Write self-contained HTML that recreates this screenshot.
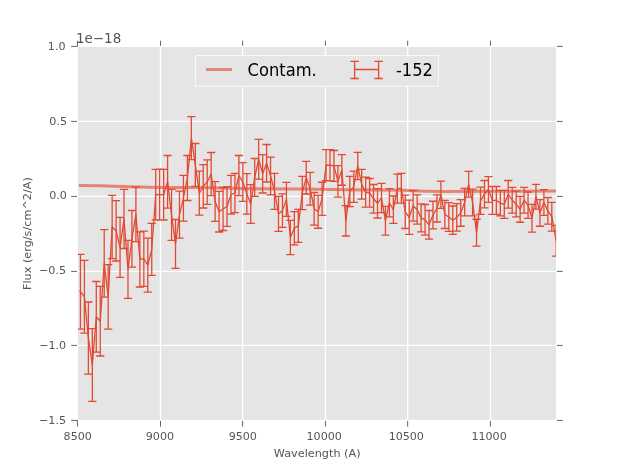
<!DOCTYPE html>
<html><head><meta charset="utf-8"><title>Flux vs Wavelength</title>
<style>html,body{margin:0;padding:0;background:#fff;}svg{display:block;will-change:transform;}text{font-family:"DejaVu Sans","Liberation Sans",sans-serif;}</style></head><body>
<svg width="617" height="467" viewBox="0 0 617 467">
<rect x="0" y="0" width="617" height="467" fill="#ffffff"/>
<rect x="78.05" y="47.05" width="477.85" height="372.75" fill="#E5E5E5"/>
<path d="M160.50 47.05V419.8M242.60 47.05V419.8M325.45 47.05V419.8M407.65 47.05V419.8M490.45 47.05V419.8M78.05 121.42H555.9M78.05 196.42H555.9M78.05 271.42H555.9M78.05 345.42H555.9" stroke="#ffffff" stroke-width="1.3" fill="none"/>
<path d="M77.45 420.1V426.65M77.45 46.4V40.7M160.50 420.9V426.65M160.50 45.8V40.7M242.60 420.9V426.65M242.60 45.8V40.7M325.45 420.9V426.65M325.45 45.8V40.7M407.65 420.9V426.65M407.65 45.8V40.7M490.45 420.9V426.65M490.45 45.8V40.7M71.15 46.42H77.45M556.9 46.42H562.75M71.15 121.42H77.0M556.9 121.42H562.75M71.15 196.42H77.0M556.9 196.42H562.75M71.15 271.42H77.0M556.9 271.42H562.75M71.15 345.42H77.0M556.9 345.42H562.75M71.15 420.40H77.45M556.9 420.40H562.75" stroke="#555555" stroke-width="0.9" fill="none"/>
<defs><clipPath id="ax"><rect x="77.85" y="46.85" width="478.25" height="373.15"/></clipPath></defs>
<g clip-path="url(#ax)">
<polyline points="78.9,185.40 100.0,185.70 114.0,186.30 130.0,186.80 160.0,187.40 200.0,187.60 250.0,188.80 300.0,189.10 350.0,189.80 403.0,190.30 420.0,191.10 440.0,191.40 490.0,191.20 556.5,191.10" fill="none" stroke="#E24A33" stroke-opacity="0.62" stroke-width="3.0" stroke-linejoin="round"/>
<path d="M80.45 254.30V329.20M76.35 254.30h8.2M76.35 329.20h8.2M84.41 260.40V333.20M80.31 260.40h8.2M80.31 333.20h8.2M88.37 302.00V374.20M84.27 302.00h8.2M84.27 374.20h8.2M92.33 328.60V401.40M88.23 328.60h8.2M88.23 401.40h8.2M96.29 281.50V352.10M92.19 281.50h8.2M92.19 352.10h8.2M100.25 286.40V356.00M96.16 286.40h8.2M96.16 356.00h8.2M104.22 229.60V297.10M100.12 229.60h8.2M100.12 297.10h8.2M108.18 264.60V329.20M104.08 264.60h8.2M104.08 329.20h8.2M112.14 195.40V258.60M108.04 195.40h8.2M108.04 258.60h8.2M116.10 200.60V261.00M112.00 200.60h8.2M112.00 261.00h8.2M120.06 217.30V277.40M115.96 217.30h8.2M115.96 277.40h8.2M124.02 189.40V248.50M119.92 189.40h8.2M119.92 248.50h8.2M127.98 240.30V298.40M123.88 240.30h8.2M123.88 298.40h8.2M131.94 210.50V267.20M127.84 210.50h8.2M127.84 267.20h8.2M135.90 187.20V241.70M131.80 187.20h8.2M131.80 241.70h8.2M139.87 231.90V287.00M135.77 231.90h8.2M135.77 287.00h8.2M143.83 231.05V286.40M139.73 231.05h8.2M139.73 286.40h8.2M147.79 238.20V292.20M143.69 238.20h8.2M143.69 292.20h8.2M151.75 223.30V275.30M147.65 223.30h8.2M147.65 275.30h8.2M155.71 169.40V219.90M151.61 169.40h8.2M151.61 219.90h8.2M159.67 169.10V220.20M155.57 169.10h8.2M155.57 220.20h8.2M163.63 169.40V220.00M159.53 169.40h8.2M159.53 220.00h8.2M167.59 155.50V208.10M163.49 155.50h8.2M163.49 208.10h8.2M171.55 189.40V240.30M167.45 189.40h8.2M167.45 240.30h8.2M175.51 219.50V268.30M171.41 219.50h8.2M171.41 268.30h8.2M179.47 191.20V238.20M175.38 191.20h8.2M175.38 238.20h8.2M183.44 175.40V221.05M179.34 175.40h8.2M179.34 221.05h8.2M187.40 155.50V200.50M183.30 155.50h8.2M183.30 200.50h8.2M191.36 116.60V159.60M187.26 116.60h8.2M187.26 159.60h8.2M195.32 143.50V186.30M191.22 143.50h8.2M191.22 186.30h8.2M199.28 171.20V215.20M195.18 171.20h8.2M195.18 215.20h8.2M203.24 164.60V208.00M199.14 164.60h8.2M199.14 208.00h8.2M207.20 159.80V204.30M203.10 159.80h8.2M203.10 204.30h8.2M211.16 152.50V195.70M207.06 152.50h8.2M207.06 195.70h8.2M215.12 181.60V221.40M211.02 181.60h8.2M211.02 221.40h8.2M219.08 191.40V232.00M214.98 191.40h8.2M214.98 232.00h8.2M223.05 187.50V230.50M218.95 187.50h8.2M218.95 230.50h8.2M227.01 186.60V226.40M222.91 186.60h8.2M222.91 226.40h8.2M230.97 175.30V214.20M226.87 175.30h8.2M226.87 214.20h8.2M234.93 173.40V212.60M230.83 173.40h8.2M230.83 212.60h8.2M238.89 155.50V195.70M234.79 155.50h8.2M234.79 195.70h8.2M242.85 162.70V201.35M238.75 162.70h8.2M238.75 201.35h8.2M246.81 173.60V214.20M242.71 173.60h8.2M242.71 214.20h8.2M250.77 184.70V223.45M246.67 184.70h8.2M246.67 223.45h8.2M254.73 158.50V196.40M250.63 158.50h8.2M250.63 196.40h8.2M258.69 139.40V179.10M254.59 139.40h8.2M254.59 179.10h8.2M262.66 154.70V193.00M258.56 154.70h8.2M258.56 193.00h8.2M266.62 144.50V182.00M262.52 144.50h8.2M262.52 182.00h8.2M270.58 157.20V194.85M266.48 157.20h8.2M266.48 194.85h8.2M274.54 173.40V209.40M270.44 173.40h8.2M270.44 209.40h8.2M278.50 196.40V231.40M274.40 196.40h8.2M274.40 231.40h8.2M282.46 193.85V227.40M278.36 193.85h8.2M278.36 227.40h8.2M286.42 182.40V216.30M282.32 182.40h8.2M282.32 216.30h8.2M290.38 220.40V254.60M286.28 220.40h8.2M286.28 254.60h8.2M294.34 211.60V244.90M290.24 211.60h8.2M290.24 244.90h8.2M298.31 209.40V242.30M294.20 209.40h8.2M294.20 242.30h8.2M302.27 176.40V209.60M298.17 176.40h8.2M298.17 209.60h8.2M306.23 161.30V194.00M302.13 161.30h8.2M302.13 194.00h8.2M310.19 172.40V205.10M306.09 172.40h8.2M306.09 205.10h8.2M314.15 192.50V225.20M310.05 192.50h8.2M310.05 225.20h8.2M318.11 195.30V228.25M314.01 195.30h8.2M314.01 228.25h8.2M322.07 182.25V215.40M317.97 182.25h8.2M317.97 215.40h8.2M326.03 149.60V180.70M321.93 149.60h8.2M321.93 180.70h8.2M329.99 149.60V180.90M325.89 149.60h8.2M325.89 180.90h8.2M333.95 150.50V181.30M329.85 150.50h8.2M329.85 181.30h8.2M337.91 165.70V197.10M333.81 165.70h8.2M333.81 197.10h8.2M341.88 154.60V185.25M337.78 154.60h8.2M337.78 185.25h8.2M345.84 205.60V236.00M341.74 205.60h8.2M341.74 236.00h8.2M349.80 176.35V206.55M345.70 176.35h8.2M345.70 206.55h8.2M353.76 171.05V202.30M349.66 171.05h8.2M349.66 202.30h8.2M357.72 152.30V179.70M353.62 152.30h8.2M353.62 179.70h8.2M361.68 169.40V199.20M357.58 169.40h8.2M357.58 199.20h8.2M365.64 177.10V207.10M361.54 177.10h8.2M361.54 207.10h8.2M369.60 178.50V207.10M365.50 178.50h8.2M365.50 207.10h8.2M373.56 184.50V213.10M369.46 184.50h8.2M369.46 213.10h8.2M377.52 188.60V218.00M373.42 188.60h8.2M373.42 218.00h8.2M381.49 183.40V212.60M377.39 183.40h8.2M377.39 212.60h8.2M385.45 206.30V235.20M381.35 206.30h8.2M381.35 235.20h8.2M389.41 188.60V216.80M385.31 188.60h8.2M385.31 216.80h8.2M393.37 196.00V223.40M389.27 196.00h8.2M389.27 223.40h8.2M397.33 174.20V203.10M393.23 174.20h8.2M393.23 203.10h8.2M401.29 173.30V203.10M397.19 173.30h8.2M397.19 203.10h8.2M405.25 195.10V228.50M401.15 195.10h8.2M401.15 228.50h8.2M409.21 200.20V234.30M405.11 200.20h8.2M405.11 234.30h8.2M413.17 190.70V221.10M409.07 190.70h8.2M409.07 221.10h8.2M417.13 194.85V224.20M413.03 194.85h8.2M413.03 224.20h8.2M421.10 203.85V231.90M417.00 203.85h8.2M417.00 231.90h8.2M425.06 204.50V235.20M420.96 204.50h8.2M420.96 235.20h8.2M429.02 210.50V239.10M424.92 210.50h8.2M424.92 239.10h8.2M432.98 201.25V228.80M428.88 201.25h8.2M428.88 228.80h8.2M436.94 194.85V222.00M432.84 194.85h8.2M432.84 222.00h8.2M440.90 181.20V208.30M436.80 181.20h8.2M436.80 208.30h8.2M444.86 200.40V228.50M440.76 200.40h8.2M440.76 228.50h8.2M448.82 202.60V231.40M444.72 202.60h8.2M444.72 231.40h8.2M452.78 206.00V234.40M448.68 206.00h8.2M448.68 234.40h8.2M456.74 203.70V231.10M452.64 203.70h8.2M452.64 231.10h8.2M460.71 199.70V226.25M456.61 199.70h8.2M456.61 226.25h8.2M464.67 188.50V215.85M460.57 188.50h8.2M460.57 215.85h8.2M468.63 171.40V197.20M464.53 171.40h8.2M464.53 197.20h8.2M472.59 189.05V215.85M468.49 189.05h8.2M468.49 215.85h8.2M476.55 219.25V246.20M472.45 219.25h8.2M472.45 246.20h8.2M480.51 187.20V214.40M476.41 187.20h8.2M476.41 214.40h8.2M484.47 180.50V207.90M480.37 180.50h8.2M480.37 207.90h8.2M488.43 176.55V202.40M484.33 176.55h8.2M484.33 202.40h8.2M492.39 186.50V214.40M488.29 186.50h8.2M488.29 214.40h8.2M496.35 186.50V214.40M492.25 186.50h8.2M492.25 214.40h8.2M500.32 190.30V215.85M496.22 190.30h8.2M496.22 215.85h8.2M504.28 190.30V218.40M500.18 190.30h8.2M500.18 218.40h8.2M508.24 180.50V208.10M504.14 180.50h8.2M504.14 208.10h8.2M512.20 187.35V213.05M508.10 187.35h8.2M508.10 213.05h8.2M516.16 191.10V216.95M512.06 191.10h8.2M512.06 216.95h8.2M520.12 196.30V222.25M516.02 196.30h8.2M516.02 222.25h8.2M524.08 187.35V213.05M519.98 187.35h8.2M519.98 213.05h8.2M528.04 192.00V218.40M523.94 192.00h8.2M523.94 218.40h8.2M532.00 204.30V232.20M527.90 204.30h8.2M527.90 232.20h8.2M535.97 184.45V209.10M531.87 184.45h8.2M531.87 209.10h8.2M539.93 199.70V226.25M535.83 199.70h8.2M535.83 226.25h8.2M543.89 189.60V215.40M539.79 189.60h8.2M539.79 215.40h8.2M547.85 197.50V224.20M543.75 197.50h8.2M543.75 224.20h8.2M551.81 202.30V231.05M547.71 202.30h8.2M547.71 231.05h8.2M556.20 225.40V256.20M552.10 225.40h8.2M552.10 256.20h8.2" stroke="#E24A33" stroke-width="1.3" fill="none"/>
<polyline points="79.4,290.9 80.45,291.75 84.41,296.80 88.37,338.10 92.33,365.00 96.29,316.80 100.25,321.20 104.22,263.35 108.18,296.90 112.14,227.00 116.10,230.80 120.06,247.35 124.02,218.95 127.98,269.35 131.94,238.85 135.90,214.45 139.87,259.45 143.83,258.73 147.79,265.20 151.75,249.30 155.71,194.65 159.67,194.65 163.63,194.70 167.59,181.80 171.55,214.85 175.51,243.90 179.47,214.70 183.44,198.23 187.40,178.00 191.36,138.10 195.32,164.90 199.28,193.20 203.24,186.30 207.20,182.05 211.16,174.10 215.12,201.50 219.08,211.70 223.05,209.00 227.01,206.50 230.97,194.75 234.93,193.00 238.89,175.60 242.85,182.02 246.81,193.90 250.77,204.07 254.73,177.45 258.69,159.25 262.66,173.85 266.62,163.25 270.58,176.02 274.54,191.40 278.50,213.90 282.46,210.62 286.42,199.35 290.38,237.50 294.34,228.25 298.31,225.85 302.27,193.00 306.23,177.65 310.19,188.75 314.15,208.85 318.11,211.78 322.07,198.82 326.03,165.15 329.99,165.25 333.95,165.90 337.91,181.40 341.88,169.93 345.84,220.80 349.80,191.45 353.76,186.68 357.72,166.00 361.68,184.30 365.64,192.10 369.60,192.80 373.56,198.80 377.52,203.30 381.49,198.00 385.45,220.75 389.41,202.70 393.37,209.70 397.33,188.65 401.29,188.20 405.25,211.80 409.21,217.25 413.17,205.90 417.13,209.52 421.10,217.88 425.06,219.85 429.02,224.80 432.98,215.03 436.94,208.43 440.90,194.75 444.86,214.45 448.82,217.00 452.78,220.20 456.74,217.40 460.71,212.97 464.67,202.18 468.63,184.30 472.59,202.45 476.55,232.72 480.51,200.80 484.47,194.20 488.43,189.48 492.39,200.45 496.35,200.45 500.32,203.07 504.28,204.35 508.24,194.30 512.20,200.20 516.16,204.02 520.12,209.28 524.08,200.20 528.04,205.20 532.00,218.25 535.97,196.77 539.93,212.97 543.89,202.50 547.85,210.85 551.81,216.68 556.20,240.80" fill="none" stroke="#E24A33" stroke-width="1.3" stroke-linejoin="round"/>
</g>
<text x="77.70" y="439.7" font-size="11.1" fill="#555555" text-anchor="middle">8500</text>
<text x="159.90" y="439.7" font-size="11.1" fill="#555555" text-anchor="middle">9000</text>
<text x="242.80" y="439.7" font-size="11.1" fill="#555555" text-anchor="middle">9500</text>
<text x="324.20" y="439.7" font-size="11.1" fill="#555555" text-anchor="middle">10000</text>
<text x="406.30" y="439.7" font-size="11.1" fill="#555555" text-anchor="middle">10500</text>
<text x="489.10" y="439.7" font-size="11.1" fill="#555555" text-anchor="middle">11000</text>
<text x="65.5" y="49.80" font-size="11.1" fill="#555555" text-anchor="end">1.0</text>
<text x="67.0" y="124.80" font-size="11.1" fill="#555555" text-anchor="end">0.5</text>
<text x="66.8" y="198.80" font-size="11.1" fill="#555555" text-anchor="end">0.0</text>
<text x="66.0" y="274.00" font-size="11.1" fill="#555555" text-anchor="end">−0.5</text>
<text x="66.2" y="348.80" font-size="11.1" fill="#555555" text-anchor="end">−1.0</text>
<text x="66.0" y="423.75" font-size="11.1" fill="#555555" text-anchor="end">−1.5</text>
<text x="317.2" y="457.0" font-size="11.25" fill="#555555" text-anchor="middle">Wavelength (A)</text>
<text transform="translate(31.2,233.6) rotate(-90)" font-size="11.25" fill="#555555" text-anchor="middle">Flux (erg/s/cm^2/A)</text>
<text x="75.9" y="42.8" font-size="13.5" fill="#555555">1e−18</text>
<rect x="195.5" y="55.55" width="242.9" height="30.6" fill="#E5E5E5" stroke="#fafafa" stroke-width="0.95"/>
<path d="M206 69.5H232" stroke="#E24A33" stroke-opacity="0.62" stroke-width="3.0" fill="none"/>
<path d="M354.6 69.5H378.6M354.6 61.4V78.5M378.6 61.4V78.5M350.4 61.4h8.4M350.4 78.5h8.4M374.4 61.4h8.4M374.4 78.5h8.4" stroke="#E24A33" stroke-width="1.3" fill="none"/>
<text transform="translate(247.6,75.9) scale(1,1.05)" font-size="16.3" fill="#000000">Contam.</text>
<text transform="translate(395.9,75.9) scale(1,1.05)" font-size="16.3" fill="#000000">-152</text>
</svg></body></html>
